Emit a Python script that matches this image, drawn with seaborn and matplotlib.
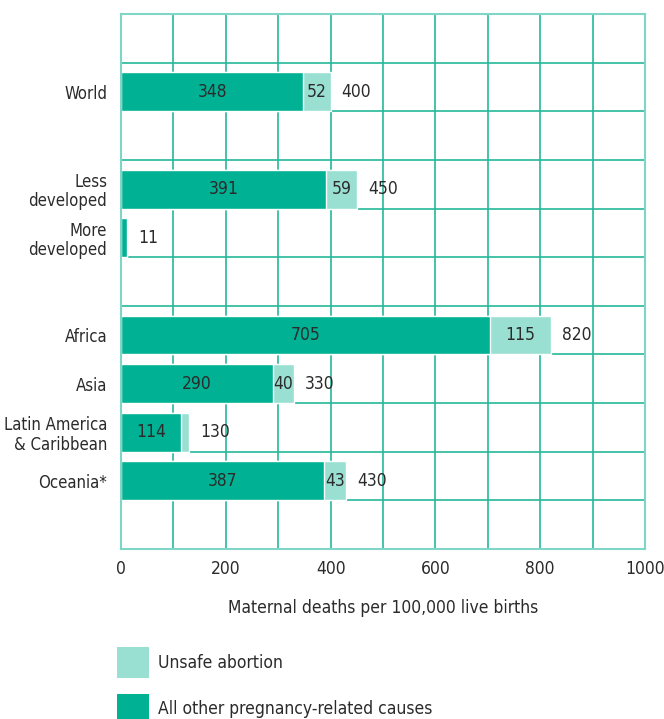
import matplotlib
matplotlib.use("Agg")
import matplotlib.pyplot as plt
from matplotlib import font_manager
from matplotlib.patches import Patch
import seaborn as sns
import pandas as pd

# data
regions = ["World", "Less\ndeveloped", "More\ndeveloped", "Africa", "Asia",
           "Latin America\n& Caribbean", "Oceania*"]
other_causes = [348, 391, 11, 705, 290, 114, 387]
unsafe_abortion = [52, 59, 0, 115, 40, 16, 43]
totals = [400, 450, 11, 820, 330, 130, 430]

# category order with empty rows as separators
row_order = ["", "World", " ", "Less\ndeveloped", "More\ndeveloped", "  ",
             "Africa", "Asia", "Latin America\n& Caribbean", "Oceania*", "   "]

dark = "#00b194"
light = "#99e0d3"
grid_col = "#25b99a"
text_col = "#2b2b2b"

sns.set_style("white")

# prefer a condensed face if one is around
fonts = font_manager.fontManager.ttflist
narrow = [f for f in fonts if ("Narrow" in f.name or "Condensed" in f.name
                               or "condensed" in str(f.stretch)) and f.weight in (400, "normal", "regular")]
stretch = "normal"
if narrow:
    fam = [narrow[0].name, "DejaVu Sans"]
    stretch = narrow[0].stretch
else:
    installed = {f.name for f in fonts}
    fam = [f for f in ["Roboto", "DejaVu Sans"] if f in installed]
plt.rcParams["font.family"] = fam
plt.rcParams["font.stretch"] = stretch
fs = 12.5 if narrow else 11.5
plt.rcParams["font.size"] = fs
px = fs * 100 / 72

df = pd.DataFrame({"region": regions, "other": other_causes,
                   "abortion": unsafe_abortion, "total": totals})

fig = plt.figure(figsize=(6.64, 7.19), dpi=100)
ax = fig.add_axes([0.1822, 0.2365, 0.7892, 0.7440])

sns.barplot(data=df, x="total", y="region", order=row_order, color=light,
            width=0.8, saturation=1, ax=ax)
sns.barplot(data=df, x="other", y="region", order=row_order, color=dark,
            width=0.8, saturation=1, ax=ax)

ax.set_xlim(0, 1000)
ax.set_ylim(10.4, -0.6)
ax.set_xticks(range(0, 1001, 200))
ax.set_xticks(range(100, 1000, 200), minor=True)
ax.set_yticks([k + 0.4 for k in range(-1, 11)], minor=True)
ax.grid(False)
ax.grid(True, which="both", axis="x", color=grid_col, lw=1.2)
ax.grid(True, which="minor", axis="y", color=grid_col, lw=1.2)
ax.set_axisbelow(True)
for s in ax.spines.values():
    s.set_visible(True)
    s.set_color("#7fd6c6")
    s.set_linewidth(1.5)
ax.tick_params(which="both", length=0)
ax.tick_params(axis="x", pad=8, labelsize=fs, colors=text_col)
ax.tick_params(axis="y", pad=10, labelsize=fs - 0.5, colors=text_col)
plt.setp(ax.get_yticklabels(), linespacing=1.1)
ax.set_ylabel("")
ax.set_xlabel("Maternal deaths per 100,000 live births", fontsize=fs,
              color=text_col, labelpad=15)

# value labels
for name, o, a, t in zip(regions, other_causes, unsafe_abortion, totals):
    y = row_order.index(name)
    if o >= 30:
        ax.text(o / 2, y, str(o), ha="center", va="center", color=text_col, fontsize=fs)
    if a >= 30:
        ax.text(o + a / 2, y, str(a), ha="center", va="center", color=text_col, fontsize=fs)
    ax.annotate(str(t), (t, y), xytext=(8, 0), textcoords="offset points",
                ha="left", va="center", color=text_col, fontsize=fs)

handles = [Patch(facecolor=light, edgecolor="none"), Patch(facecolor=dark, edgecolor="none")]
fig.legend(handles, ["Unsafe abortion", "All other pregnancy-related causes"],
           loc="upper left", bbox_to_anchor=(0.176, 0.100), frameon=False,
           borderpad=0, borderaxespad=0, handlelength=32 / px,
           handleheight=1.3 * 31 / px, handletextpad=0.55,
           labelspacing=16 / px, fontsize=fs, labelcolor=text_col)

fig.savefig("out.png", dpi=100)
